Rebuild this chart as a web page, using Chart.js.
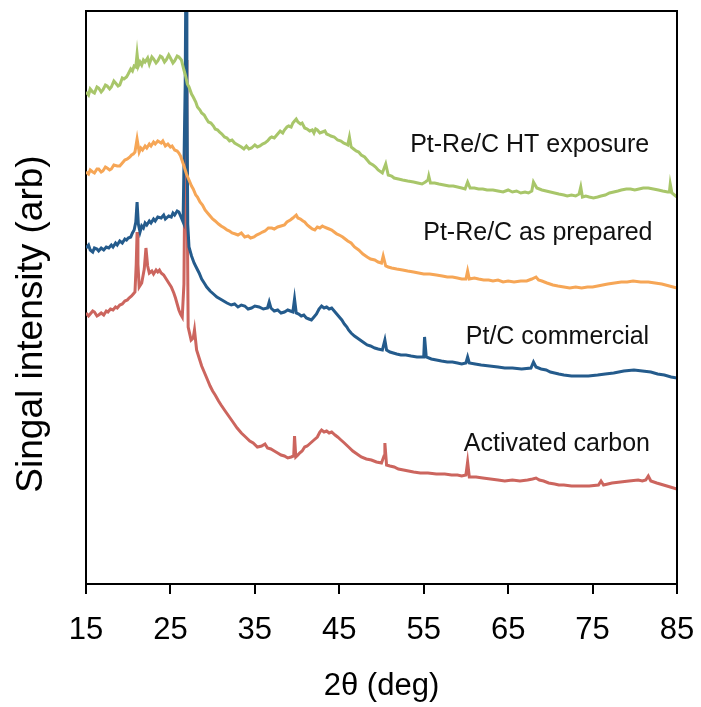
<!DOCTYPE html>
<html>
<head>
<meta charset="utf-8">
<title>XRD patterns</title>
<script src="https://cdn.jsdelivr.net/npm/chart.js@4.4.1/dist/chart.umd.min.js"></script>
<style>
    html, body { margin: 0; padding: 0; background: #fff; }
    #wrap { width: 701px; height: 707px; }
</style>
</head>
<body>
<div id="wrap"><canvas id="xrd" width="701" height="707"></canvas></div>
<script>
// 2-theta (deg) vs. intensity (arb, stacked with offsets)
const seriesNames = ['Pt-Re/C HT exposure', 'Pt-Re/C as prepared', 'Pt/C commercial', 'Activated carbon'];
const seriesColors = ['#a8c66a', '#f6a656', '#245b8c', '#cc655e'];

const htExposure = [
    [15.0,492],[15.3,489],[15.5,495],[15.8,492],[16.0,491],[16.3,497],[16.5,496],[16.8,492],[17.0,494],[17.3,499],[17.5,498],[17.8,495],[18.0,497],[18.3,503],[18.5,501],[18.8,498],[19.0,499],[19.3,506],[19.5,505],[19.8,507],
    [20.0,510],[20.3,515],[20.5,513],[20.7,518],[20.9,517],[21.05,530],[21.2,518],[21.4,522],[21.6,519],[21.8,524],[22.0,522],[22.3,526],[22.5,520],[22.8,527],[23.0,525],[23.3,521],[23.5,523],[23.8,528],
    [24.0,527],[24.3,522],[24.5,524],[24.8,529],[25.0,526],[25.3,521],[25.5,523],[25.8,528],[26.0,527],[26.3,524],[26.6,514],[26.8,508],[27.0,500],[27.2,497],[27.5,490],[27.7,487],
    [28.0,482],[28.2,477],[28.5,474],[28.7,471],[29.0,469],[29.2,466],[29.5,462],[29.8,461],[30.1,458],[30.3,455],[30.6,454],[30.8,452],[31.1,450],[31.4,447],[31.7,446],[32.0,443],[32.3,444],[32.6,441],[33.0,439],[33.4,437],
    [33.7,435],[34.0,438],[34.3,435],[34.6,436],[35.0,439],[35.3,437],[35.6,438],[35.9,440],[36.2,441],[36.5,443],[36.8,446],[37.0,447],[37.3,446],[37.6,449],[38.0,453],[38.3,451],[38.5,454],[38.8,457],[39.0,458],
    [39.3,457],[39.5,461],[39.7,463],[39.9,465],[40.1,462],[40.4,460],[40.6,461],[40.9,456],[41.2,455],[41.5,453],[41.8,454],[42.0,451],[42.2,455],[42.4,454],[42.7,451],[43.0,452],[43.3,453],[43.5,450],[43.8,449],[44.0,448],
    [44.4,447],[44.8,444],[45.2,443],[45.5,441],[45.8,440],[46.0,439],[46.2,447],[46.4,437],[46.7,435],[47.0,433],[47.3,432],[47.6,429],[48.0,427],[48.3,424],[48.6,421],[49.0,419],[49.3,417],[49.6,414],
    [50.1,411],[50.5,420],[50.8,409],[51.2,408],[51.5,406],[52.0,405],[52.5,404],[53.1,403],[53.8,402],[54.3,401],[54.8,400],[55.2,402],[55.5,404],[55.6,408],[55.8,401],
    [56.3,401],[56.8,400],[57.4,399],[58.0,398],[58.5,398],[59.0,397],[59.5,396],[59.9,395],[60.2,402],[60.5,396],[61.0,396],[61.5,395],[62.0,395],[62.5,394],[63.2,394],[63.8,393],[64.4,392],[65.0,394],
    [65.5,392],[66.0,393],[66.5,391],[67.0,392],[67.4,391],[67.8,393],[68.0,402],[68.4,396],[69.0,394],[69.5,393],[70.0,392],[70.5,391],[71.0,390],[71.6,389],[72.0,388],[72.5,389],[73.0,388],[73.4,390],
    [73.6,397],[73.8,387],[74.2,388],[74.6,387],[75.1,386],[75.6,387],[76.0,388],[76.5,389],[77.0,391],[77.5,392],[78.0,393],[78.4,394],[79.0,395],[79.5,395],[80.0,394],[80.5,395],[81.0,396],[81.6,396],
    [82.2,395],[82.8,394],[83.3,393],[83.9,392],[84.1,392],[84.2,400],[84.4,391],[84.7,389],[85.0,387]
];

const asPrepared = [
    [15.0,412],[15.3,410],[15.5,414],[15.8,412],[16.0,411],[16.3,415],[16.5,415],[16.8,412],[17.0,413],[17.3,417],[17.5,416],[17.8,414],[18.0,415],[18.3,419],[18.7,418],[19.0,418],[19.3,421],[19.6,424],[19.9,425],
    [20.2,427],[20.4,429],[20.6,430],[20.8,432],[21.05,445],[21.3,432],[21.5,436],[21.7,434],[22.0,438],[22.2,436],[22.5,440],[22.7,438],[23.0,442],[23.2,440],[23.5,443],[23.9,441],[24.1,443],[24.4,438],
    [24.7,440],[25.0,437],[25.2,438],[25.5,434],[25.8,433],[26.0,431],[26.2,428],[26.4,423],[26.6,418],[26.9,410],[27.2,404],[27.5,398],[27.7,395],[28.0,389],[28.2,387],[28.5,382],[28.8,379],[29.1,374],[29.4,371],
    [29.7,368],[30.0,365],[30.3,363],[30.7,360],[31.0,358],[31.4,356],[31.7,354],[32.0,353],[32.3,351],[32.7,350],[33.0,349],[33.4,351],[33.8,347],[34.2,348],[34.5,346],[34.9,347],[35.2,349],[35.5,350],[35.9,352],[36.2,353],
    [36.6,356],[37.0,356],[37.3,355],[37.7,357],[38.1,358],[38.5,359],[38.8,362],[39.2,364],[39.5,366],[39.9,369],[40.1,366],[40.4,365],[40.7,363],[40.9,362],[41.2,359],[41.5,357],[41.8,355],[42.1,354],[42.4,357],[42.7,356],
    [43.0,358],[43.2,357],[43.5,356],[43.8,355],[44.1,354],[44.4,352],[44.7,350],[45.0,349],[45.4,347],[45.7,345],[46.0,343],[46.4,341],[46.8,337],[47.3,334],[47.8,330],[48.3,327],[48.7,325],[49.2,324],[49.6,322],[50.0,321],
    [50.2,328],[50.5,318],[50.8,317],[51.2,316],[51.8,315],[52.5,314],[53.1,313],[53.8,312],[54.4,311],[55.0,310],[55.7,310],[56.5,309],[57.2,308],[57.8,307],[58.4,307],[59.0,306],[59.5,305],[60.0,305],
    [60.2,313],[60.4,305],[61.0,306],[61.5,305],[62.1,304],[62.7,304],[63.2,303],[63.8,304],[64.4,302],[65.0,303],[65.7,302],[66.5,303],[67.2,303],[67.8,305],[68.3,307],[68.6,304],[69.0,303],[69.6,301],
    [70.3,299],[70.9,298],[71.6,297],[72.3,296],[73.0,297],[73.7,296],[74.4,297],[75.0,297],[75.6,298],[76.2,299],[76.8,300],[77.6,301],[78.4,302],[79.1,302],[79.8,303],[80.7,302],[81.6,302],[82.4,301],[83.2,300],
    [84.1,298],[85.0,296]
];

const ptcCommercial = [
    [15.0,336],[15.3,339],[15.5,334],[15.8,332],[16.0,336],[16.3,335],[16.5,333],[16.8,336],[17.1,334],[17.4,337],[17.7,336],[18.0,339],[18.2,337],[18.5,341],[18.7,339],[19.0,343],[19.3,341],[19.6,345],[19.8,344],
    [20.0,346],[20.3,347],[20.5,351],[20.7,354],[20.9,362],[21.05,382],[21.2,360],[21.4,352],[21.6,358],[21.8,356],[22.0,361],[22.2,359],[22.5,363],[22.7,361],[23.0,365],[23.2,363],[23.5,367],
    [23.9,366],[24.2,369],[24.4,365],[24.8,368],[25.1,367],[25.3,371],[25.5,369],[25.8,373],[26.0,372],[26.3,366],[26.5,362],[26.75,500],[26.85,640],[26.95,500],
    [27.05,360],[27.2,337],[27.5,328],[27.8,321],[28.1,316],[28.4,311],[28.7,305],[29.0,301],[29.3,297],[29.7,293],[30.1,290],[30.5,287],[30.9,285],[31.3,283],[31.7,281],[32.2,279],[32.6,280],
    [33.0,277],[33.4,279],[33.8,278],[34.2,275],[34.6,276],[35.0,278],[35.5,277],[36.0,275],[36.5,276],[36.7,282],[36.9,276],[37.3,273],[37.7,274],[38.1,271],[38.5,272],[38.9,274],[39.2,273],
    [39.5,272],[39.7,285],[39.9,271],[40.2,270],[40.5,268],[40.8,269],[41.1,266],[41.4,265],[41.7,264],[42.0,267],[42.3,270],[42.6,275],[42.9,278],[43.2,276],[43.5,277],[43.8,275],[44.1,276],[44.4,273],[44.7,270],
    [45.0,267],[45.3,264],[45.6,260],[45.9,257],[46.1,254],[46.4,251],[46.8,248],[47.3,245],[47.8,242],[48.3,239],[48.7,238],[49.2,236],[49.6,235],[50.1,234],[50.4,244],[50.6,234],[51.0,232],[51.4,231],
    [51.8,230],[52.3,229],[52.9,229],[53.5,228],[54.2,227],[55.0,227],[55.1,247],[55.3,227],[55.9,225],[56.5,224],[57.1,223],[57.8,222],[58.4,222],[59.0,221],[59.5,220],[60.0,221],[60.2,227],
    [60.4,221],[61.1,220],[61.8,219],[62.8,218],[63.8,217],[64.6,216],[65.5,216],[66.6,215],[67.7,216],[68.0,222],[68.3,217],[68.9,215],[69.5,214],[70.0,212],[70.5,211],[71.0,210],[71.6,209],
    [72.5,208],[73.5,208],[74.5,208],[75.6,209],[76.5,210],[77.5,211],[78.7,213],[79.9,214],[80.9,213],[81.9,212],[82.7,210],[83.5,209],[84.3,207],[85.0,206]
];

const activatedCarbon = [
    [15.0,271],[15.3,268],[15.5,270],[15.8,273],[16.0,272],[16.3,268],[16.5,269],[16.8,271],[17.1,269],[17.4,273],[17.6,272],[17.9,275],[18.2,274],[18.5,277],[18.7,276],[19.0,279],[19.3,280],[19.6,283],[19.9,284],
    [20.1,286],[20.4,288],[20.6,290],[20.8,292],[20.95,320],[21.05,352],[21.15,320],[21.3,297],[21.6,301],[21.9,315],[22.1,336],[22.3,318],
    [22.5,311],[22.8,313],[23.0,310],[23.3,314],[23.5,312],[23.7,314],[23.9,311],[24.2,309],[24.5,305],[24.8,301],[25.1,297],[25.4,291],[25.6,286],[25.8,280],[26.0,274],[26.2,270],[26.4,267],[26.6,300],
    [26.75,450],[26.85,524],[26.95,420],[27.1,257],[27.45,244],[27.7,246],[27.85,254],[28.0,242],[28.1,234],[28.4,226],[28.7,218],
    [29.0,212],[29.4,204],[29.7,198],[30.0,193],[30.3,189],[30.7,183],[31.0,179],[31.4,174],[31.9,168],[32.4,162],[32.9,156],[33.4,151],[33.9,147],[34.4,143],[34.8,141],[35.3,137],[35.8,138],[36.2,140],[36.5,136],[36.9,135],
    [37.3,133],[37.7,131],[38.1,129],[38.5,128],[38.9,126],[39.3,127],[39.6,128],[39.7,148],[39.85,127],[40.1,129],[40.3,131],[40.6,133],[40.9,137],[41.2,138],[41.6,141],[42.0,144],[42.4,147],
    [42.7,152],[42.9,154],[43.2,152],[43.5,153],[43.8,151],[44.1,152],[44.5,149],[44.8,147],[45.2,144],[45.6,141],[46.1,137],[46.6,133],[47.1,130],[47.6,127],[48.2,125],[48.8,124],[49.4,122],[50.0,121],[50.3,128],
    [50.4,141],[50.6,119],[51.0,118],[51.5,117],[52.0,115],[52.6,114],[53.2,113],[53.8,112],[54.6,111],[55.5,111],[56.5,110],[57.5,110],[58.3,109],[59.0,109],[59.5,108],[60.0,109],[60.2,122],
    [60.4,107],[61.2,107],[62.0,106],[62.9,105],[63.8,104],[64.6,103],[65.5,104],[66.4,103],[67.3,104],[67.9,105],[68.3,106],[68.7,104],[69.2,103],[69.8,101],[70.5,100],[71.0,99],[71.6,99],[72.5,98],[73.5,98],
    [74.6,98],[75.7,99],[76.0,103],[76.3,99],[77.3,101],[78.3,102],[79.3,103],[80.4,104],[80.9,103],[81.3,104],[81.6,108],[81.9,103],[82.6,101],[83.4,99],[84.2,97],[85.0,95]
];

const xTicks = [15, 25, 35, 45, 55, 65, 75, 85];

// curve labels: right edge (deg) and vertical middle (intensity)
const labelX = [81.7, 82.1, 81.7, 81.8];
const labelY = [439, 351, 247, 140];

const FONT = "'Liberation Sans', Arial, Helvetica, sans-serif";
const allSeries = [htExposure, asPrepared, ptcCommercial, activatedCarbon];

const datasets = allSeries.map((pts, i) => ({
    label: seriesNames[i],
    data: pts.map(p => ({ x: p[0], y: p[1] })),
    borderColor: seriesColors[i],
    borderWidth: 3,
    pointRadius: 0,
    tension: 0,
    fill: false,
    clip: 0
}));

const framePlugin = {
    id: 'frame',
    afterDraw(chart) {
        const ctx = chart.ctx;
        const a = chart.chartArea;
        const xs = chart.scales.x;
        const ys = chart.scales.y;
        ctx.save();
        // top and right edges of the box
        ctx.strokeStyle = '#000';
        ctx.lineWidth = 2;
        ctx.beginPath();
        ctx.moveTo(a.left, a.top);
        ctx.lineTo(a.right, a.top);
        ctx.lineTo(a.right, a.bottom);
        ctx.stroke();

        // series labels
        ctx.fillStyle = '#111';
        ctx.font = '25px ' + FONT;
        ctx.textAlign = 'right';
        ctx.textBaseline = 'middle';
        seriesNames.forEach((name, i) => {
            ctx.fillText(name, xs.getPixelForValue(labelX[i]), ys.getPixelForValue(labelY[i]));
        });

        // axis titles
        ctx.fillStyle = '#000';
        ctx.textAlign = 'center';
        ctx.font = '31px ' + FONT;
        ctx.fillText('2\u03B8 (deg)', (a.left + a.right) / 2, 686);
        ctx.translate(32, 324);
        ctx.rotate(-Math.PI / 2);
        ctx.font = '37px ' + FONT;
        ctx.fillText('Singal intensity (arb)', 0, 0);
        ctx.restore();
    }
};

new Chart(document.getElementById('xrd'), {
    type: 'line',
    data: { datasets: datasets },
    options: {
        responsive: false,
        animation: false,
        layout: { padding: { top: 11, right: 24, left: 0, bottom: 0 } },
        plugins: {
            legend: { display: false },
            tooltip: { enabled: false }
        },
        scales: {
            x: {
                type: 'linear',
                min: 15,
                max: 85,
                afterFit(scale) {
                    scale.height = 123;
                    scale.paddingLeft = 0;
                    scale.paddingRight = 0;
                },
                afterBuildTicks(scale) { scale.ticks = xTicks.map(v => ({ value: v })); },
                ticks: {
                    color: '#000',
                    font: { family: FONT, size: 31 },
                    padding: 18,
                    maxRotation: 0
                },
                grid: {
                    drawOnChartArea: false,
                    drawTicks: true,
                    tickLength: 10,
                    color: '#000',
                    lineWidth: 2
                },
                border: { display: true, color: '#000', width: 2 }
            },
            y: {
                type: 'linear',
                min: 0,
                max: 573,
                afterFit(scale) { scale.width = 86; },
                ticks: { display: false },
                grid: { drawOnChartArea: false, drawTicks: false },
                border: { display: true, color: '#000', width: 2 }
            }
        }
    },
    plugins: [framePlugin]
});
</script>
</body>
</html>
